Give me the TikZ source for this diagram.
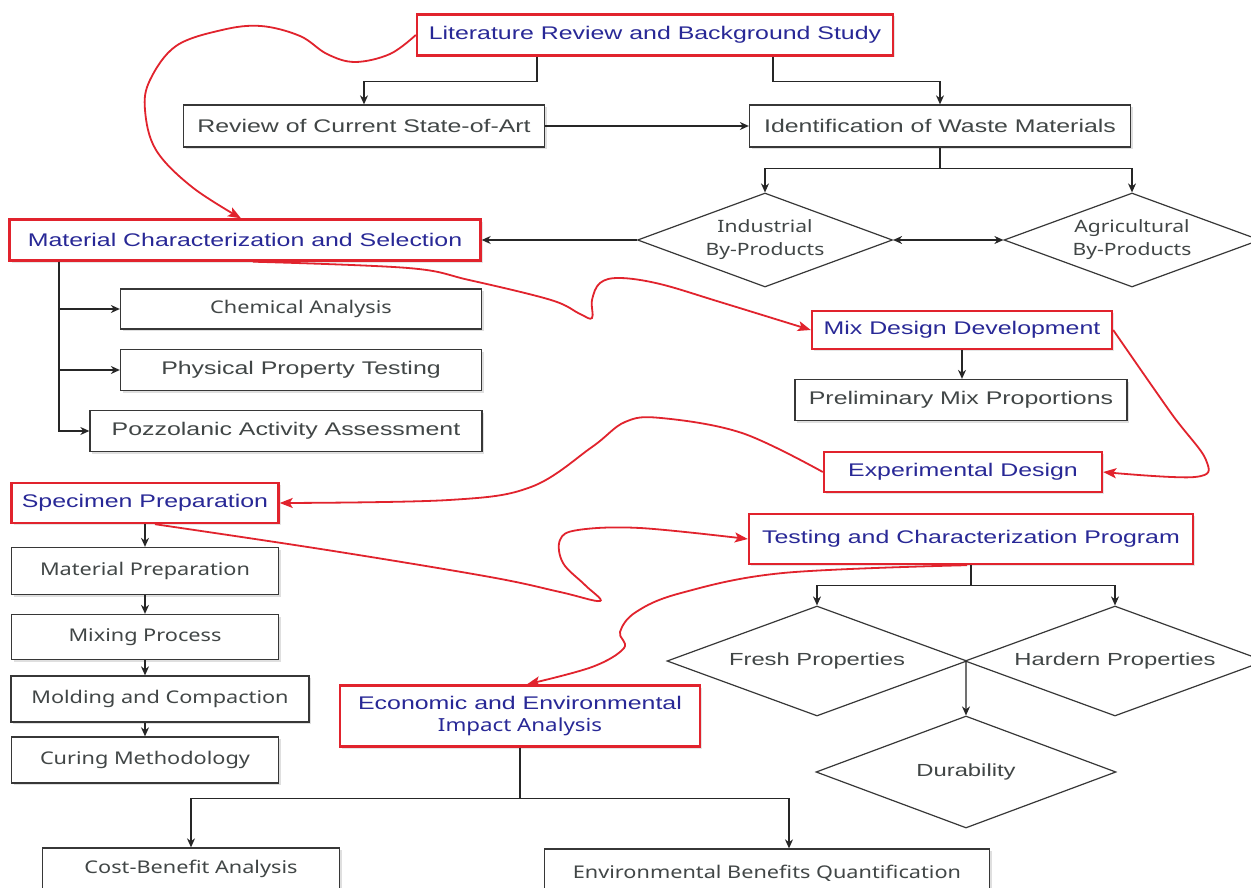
\documentclass[tikz,border=0pt]{standalone}
\usepackage{fontspec}
\setmainfont{Liberation Sans}[FakeStretch=1.36]
\newfontfamily\segoe{Noto Sans}[FakeStretch=1.24]
\usetikzlibrary{arrows.meta,shapes.geometric,shadows,calc}
\definecolor{rbord}{RGB}{225,35,45}
\definecolor{btext}{RGB}{40,40,150}
\definecolor{gtext}{RGB}{65,70,70}
\definecolor{gline}{RGB}{55,55,55}
\begin{document}
\begin{tikzpicture}[x=1pt,y=-1pt,
  base/.style={fill=white, inner sep=2pt, align=center, font=\fontsize{18.3}{22}\selectfont},
  seg/.style={font=\segoe\fontsize{17.5}{22}\selectfont},
  bbox/.style={base, draw=gline, line width=1.3pt, text=gtext,
    drop shadow={opacity=0.25,shadow xshift=2pt,shadow yshift=-2pt}},
  rbox/.style={base, draw=rbord, line width=2.4pt, text=btext, fill=white,
    drop shadow={opacity=0.2,shadow xshift=2pt,shadow yshift=-2pt}},
  dia/.style={diamond, draw=gline, line width=1.2pt, fill=white, text=gtext,
    inner sep=0pt, align=center, font=\fontsize{17.5}{22}\selectfont},
  dseg/.style={font=\segoe\fontsize{17}{23}\selectfont},
  conn/.style={draw=black!85, line width=1.2pt, -{Stealth[length=9pt,width=8pt]}},
  dconn/.style={draw=black!85, line width=1.2pt, {Stealth[length=9pt,width=8pt]}-{Stealth[length=9pt,width=8pt]}},
  rconn/.style={draw=rbord, line width=1.8pt, -{Stealth[length=13pt,width=10pt,inset=3pt]}}
]
\useasboundingbox (0,0) rectangle (1251,888);
\clip (0,0) rectangle (1251,888);
\fill[white] (0,0) rectangle (1251,888);

% nodes
\node[rbox, minimum width=476pt, minimum height=41pt] (LR) at (655,35) {Literature Review and Background Study};
\node[bbox, minimum width=361pt, minimum height=42pt] (RC) at (364,126) {Review of Current State-of-Art};
\node[bbox, minimum width=381pt, minimum height=42pt] (IW) at (940,126) {Identification of Waste Materials};
\node[dia, dseg, minimum width=255pt, minimum height=94pt, shape aspect=2.7] (IND) at (765,240) {Industrial\\By-Products};
\node[dia, dseg, minimum width=256pt, minimum height=94pt, shape aspect=2.7] (AGR) at (1132,240) {Agricultural\\By-Products};
\node[rbox, minimum width=471pt, minimum height=41pt] (MC) at (245,240) {Material Characterization and Selection};
\node[bbox, seg, minimum width=361pt, minimum height=40pt] (CA) at (301,309) {Chemical Analysis};
\node[bbox, minimum width=361pt, minimum height=41pt] (PPT) at (301,370) {Physical Property Testing};
\node[bbox, minimum width=392pt, minimum height=41pt] (PAA) at (286,431) {Pozzolanic Activity Assessment};
\node[rbox, minimum width=300pt, minimum height=38pt] (MD) at (962,330) {Mix Design Development};
\node[bbox, minimum width=332pt, minimum height=41pt] (PM) at (961,400) {Preliminary Mix Proportions};
\node[rbox, minimum width=278pt, minimum height=40pt] (ED) at (963,472) {Experimental Design};
\node[rbox, minimum width=444pt, minimum height=50pt] (TC) at (971,539) {Testing and Characterization Program};
\node[rbox, minimum width=267pt, minimum height=40pt] (SP) at (145,503) {Specimen Preparation};
\node[bbox, seg, minimum width=267pt, minimum height=47pt] (MP) at (145,571) {Material Preparation};
\node[bbox, seg, minimum width=267pt, minimum height=45pt] (MX) at (145,637) {Mixing Process};
\node[bbox, seg, minimum width=298pt, minimum height=46pt] (MO) at (160,699) {Molding and Compaction};
\node[bbox, seg, minimum width=267pt, minimum height=46pt] (CU) at (145,760) {Curing Methodology};
\node[rbox, minimum width=360pt, minimum height=61pt] (EE) at (520,716) {Economic and Environmental\\{\segoe\fontsize{18}{22}\selectfont Impact Analysis}};
\node[bbox, seg, minimum width=297pt, minimum height=42pt] (CB) at (191,869) {Cost-Benefit Analysis};
\node[bbox, seg, minimum width=445pt, minimum height=48pt] (EB) at (767,873) {Environmental Benefits Quantification};
\node[dia, minimum width=300pt, minimum height=110pt, shape aspect=2.73] (FP) at (817,661) {Fresh Properties};
\node[dia, minimum width=300pt, minimum height=110pt, shape aspect=2.73] (HP) at (1115,661) {Hardern Properties};
\node[dia, minimum width=300pt, minimum height=112pt, shape aspect=2.7] (DU) at (966,772) {Durability};

% black connectors
\draw[conn] ([xshift=-118pt]LR.south) -- ++(0,25) -| (RC.north);
\draw[conn] ([xshift=118pt]LR.south) -- ++(0,25) -| (IW.north);
\draw[conn] (RC.east) -- (IW.west);
\draw[conn] (IW.south) -- ++(0,21) -| (IND.north);
\draw[conn] (IW.south) -- ++(0,21) -| (AGR.north);
\draw[conn] (IND.west) -- (MC.east);
\draw[dconn] (IND.east) -- (AGR.west);
\draw[conn] ([xshift=-186pt]MC.south) |- (CA.west);
\draw[conn] ([xshift=-186pt]MC.south) |- (PPT.west);
\draw[conn] ([xshift=-186pt]MC.south) |- (PAA.west);
\draw[conn] (MD.south) -- (MD.south |- PM.north);
\draw[conn] (SP.south) -- (MP.north);
\draw[conn] (MP.south) -- (MX.north);
\draw[conn] (MX.south) -- (MX.south |- MO.north);
\draw[conn] (CU.north |- MO.south) -- (CU.north);
\draw[conn] (TC.south) -- ++(0,20) -| (FP.north);
\draw[conn] (TC.south) -- ++(0,20) -| (HP.north);
\coordinate (J) at ($(FP.east)!0.5!(HP.west)$);
\draw[conn] (J) -- (DU.north);
\draw[conn] (EE.south) -- ++(0,51) -| (CB.north);
\draw[conn] (EE.south) -- ++(0,51) -| ([xshift=22pt]EB.north);

% red curved connectors
\draw[rconn] plot[smooth, tension=0.6] coordinates {(LR.west) (390,54) (355,62) (327,54) (300,36) (261,26) (222,30) (176,46) (150,80) (145,110) (156,150) (192,187) ([xshift=-4pt]MC.north)};
\draw[rconn] plot[smooth, tension=0.6] coordinates {([xshift=8pt]MC.south) (408,268) (469,280) (551,300) (580,314) (592,318) (592,300) (600,283) (620,278) (660,284) (720,302) (MD.west)};
\draw[rconn] plot[smooth, tension=0.6] coordinates {(MD.east) (1171,413) (1206,460) (1195,477) (ED.east)};
\draw[rconn] plot[smooth, tension=0.6] coordinates {(ED.west) (742,433) (661,418) (625,422) (592,447) (531,487) (449,500) (SP.east)};
\draw[rconn] plot[smooth, tension=0.6] coordinates {([xshift=10pt]SP.south) (327,550) (490,577) (560,592) (600,601) (585,585) (563,563) (560,540) (578,530) (640,528) (TC.west)};
\draw[rconn] plot[smooth, tension=0.6] coordinates {([xshift=-4pt]TC.south) (783,573) (681,593) (636,612) (620,632) (624,648) (592,667) ([xshift=7pt]EE.north)};
\end{tikzpicture}
\end{document}
